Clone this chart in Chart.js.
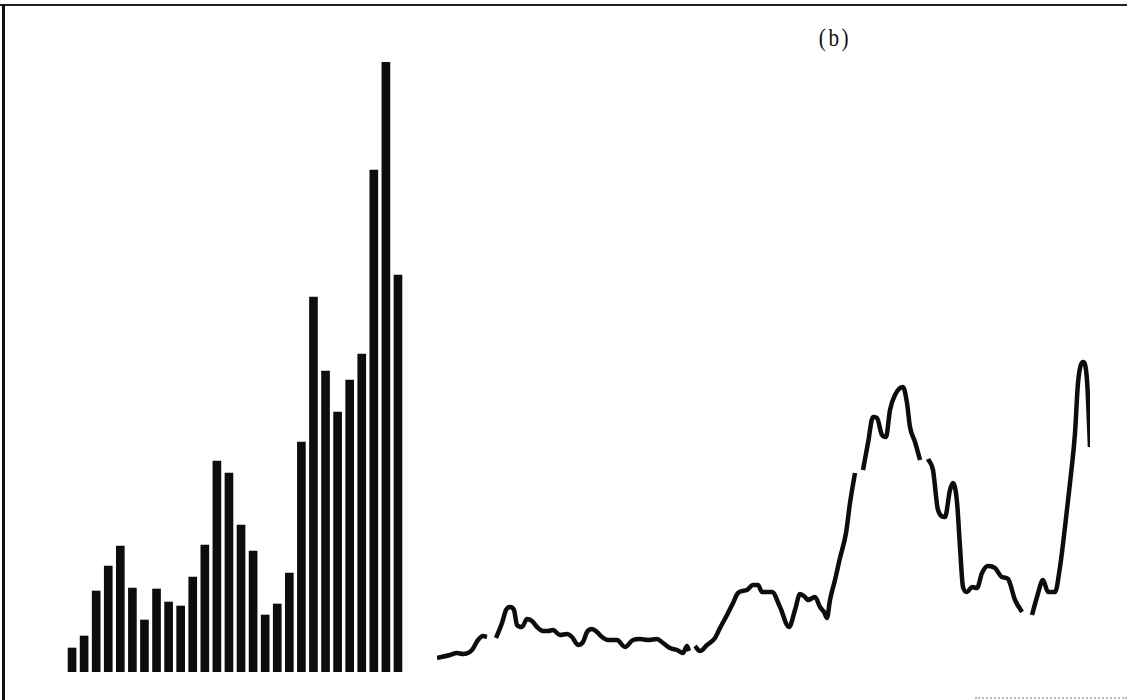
<!DOCTYPE html>
<html>
<head>
<meta charset="utf-8">
<script src="https://cdn.jsdelivr.net/npm/chart.js@4.4.0/dist/chart.umd.min.js"></script>
<style>
    html, body { margin: 0; padding: 0; background: #fff; }
    #page { position: relative; width: 1127px; height: 700px; overflow: hidden; background: #fff; }
    .frame-top { position: absolute; left: 0; top: 4px; width: 1127px; height: 2px; background: #222; }
    .frame-left { position: absolute; left: 2px; top: 4px; width: 3px; height: 696px; background: #111; }
    .frame-bottom { position: absolute; left: 975px; top: 697px; width: 152px; height: 0; border-top: 2px dotted #bbb; }
    #tag { position: absolute; left: 800px; top: 24px; width: 70px; text-align: center;
           font-family: "Liberation Serif", "DejaVu Serif", serif; font-size: 25px;
           color: #111; letter-spacing: 3px; transform: scaleX(0.85); }
    #barCanvas { position: absolute; left: 66px; top: 62px; }
    #lineCanvas { position: absolute; left: 437px; top: 340px; }
</style>
</head>
<body>
<div id="page">
    <div class="frame-top"></div>
    <div class="frame-left"></div>
    <div class="frame-bottom"></div>
    <div id="tag">(b)</div>
    <canvas id="barCanvas" width="338" height="610"></canvas>
    <canvas id="lineCanvas" width="653" height="332"></canvas>
</div>
<script>
// bar panel: 28 bars, heights
const barLabels = ['1','2','3','4','5','6','7','8','9','10','11','12','13','14',
                   '15','16','17','18','19','20','21','22','23','24','25','26','27','28'];
const barValues = [24, 36, 81, 106, 126, 84, 52, 83, 70, 66, 95, 127, 211, 199,
                   147, 121, 57, 68, 99, 230, 375, 301, 260, 292, 318, 502, 610, 397];
const barMax = 610;

// line panel: position along the trace and height above baseline (null = break in trace)
const lineX = [0, 13, 20, 26, 35, 41, 46, 50, 54, 59, 65, 69, 73, 77, 80, 85, 90, 95, 100,
               106, 111, 116, 123, 130, 135, 141, 146, 150, 155, 160, 165, 171, 180, 188, 196,
               203, 211, 220, 226, 233, 240, 246, 250, 252, 255, 258, 263, 270, 278, 283, 290,
               296, 301, 310, 316, 321, 325, 330, 335, 343, 352, 358, 363, 368, 371, 378, 383,
               387, 390, 393, 398, 403, 409, 413, 418, 422, 426, 431, 436, 440, 445, 449, 453,
               458, 466, 470, 473, 478, 483, 487, 491, 496, 501, 508, 513, 516, 520, 523, 526,
               530, 535, 540, 545, 551, 558, 565, 571, 578, 585, 590, 595, 600, 606, 611, 618,
               623, 628, 633, 638, 641, 646, 650, 653];
const lineY = [14, 17, 19, 18, 22, 32, 36, 35, null, 34, 49, 62, 65, 62, 47, 45, 53, 51, 45,
               41, 41, 42, 37, 38, 35, 27, 30, 40, 43, 40, 35, 32, 32, 25, 32,
               33, 32, 33, 29, 24, 22, 19, 26, 21, null, 26, 21, 27, 34, 44, 57,
               69, 79, 82, 87, 87, 80, 80, 80, 65, 45, 62, 78, 75, 72, 75, 65,
               60, 54, 72, 92, 114, 139, 169, 199, null, 202, 229, 255, 254, 237, 235, 262,
               277, 285, 269, 245, 230, 212, null, 213, 202, 162, 155, 182, 189, 170, 125, 85,
               80, 85, 84, 99, 106, 104, 95, 93, 72, 60, null, 57, 75, 92, 80, 80,
               105, 145, 189, 239, 289, 310, 292, 225];
const lineXMax = 653;
const lineYMax = 332;

new Chart(document.getElementById('barCanvas').getContext('2d'), {
    type: 'bar',
    data: {
        labels: barLabels,
        datasets: [{
            data: barValues,
            backgroundColor: '#0d0d0d',
            borderWidth: 0,
            barThickness: 8
        }]
    },
    options: {
        responsive: false,
        animation: false,
        layout: { padding: 0 },
        plugins: { legend: { display: false }, tooltip: { enabled: false } },
        scales: {
            x: { display: false },
            y: { display: false, min: 0, max: barMax }
        }
    }
});

new Chart(document.getElementById('lineCanvas').getContext('2d'), {
    type: 'line',
    data: {
        datasets: [{
            data: lineX.map((x, i) => ({ x: x, y: lineY[i] })),
            borderColor: '#0d0d0d',
            borderWidth: 4.5,
            pointRadius: 0,
            cubicInterpolationMode: 'monotone',
            spanGaps: false,
            fill: false,
            clip: false
        }]
    },
    options: {
        responsive: false,
        animation: false,
        layout: { padding: 0 },
        plugins: { legend: { display: false }, tooltip: { enabled: false } },
        scales: {
            x: { type: 'linear', display: false, min: 0, max: lineXMax },
            y: { display: false, min: 0, max: lineYMax }
        }
    }
});
</script>
</body>
</html>
